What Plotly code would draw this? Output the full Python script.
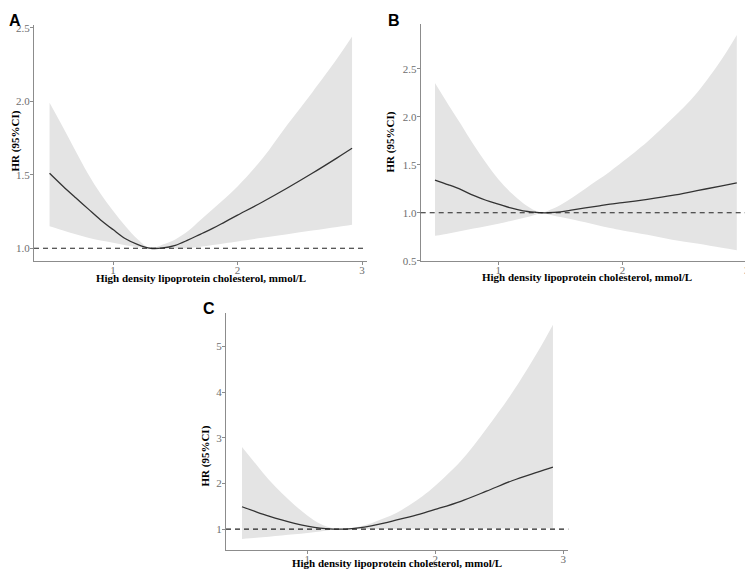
import plotly.graph_objects as go

# ---------------- data ----------------
a_x  = [0.49, 0.6, 0.7, 0.8, 0.9, 1.0, 1.1, 1.2, 1.3, 1.4, 1.5, 1.6, 1.7, 1.8, 1.9, 2.0, 2.2, 2.4, 2.6, 2.8, 2.92]
a_hr = [1.51, 1.42, 1.343, 1.268, 1.193, 1.127, 1.065, 1.025, 1.00, 1.002, 1.02, 1.055, 1.095, 1.135, 1.18, 1.225, 1.315, 1.41, 1.51, 1.615, 1.68]
a_hi = [1.99, 1.82, 1.66, 1.505, 1.37, 1.255, 1.15, 1.06, 1.00, 1.025, 1.06, 1.115, 1.19, 1.265, 1.34, 1.42, 1.61, 1.84, 2.06, 2.29, 2.44]
a_lo = [1.149, 1.12, 1.095, 1.072, 1.052, 1.038, 1.02, 1.007, 1.00, 0.999, 0.998, 1.00, 1.01, 1.022, 1.034, 1.046, 1.071, 1.096, 1.12, 1.145, 1.16]

b_x  = [0.49, 0.6, 0.7, 0.8, 0.9, 1.0, 1.1, 1.2, 1.3, 1.35, 1.4, 1.5, 1.6, 1.7, 1.8, 1.9, 2.0, 2.2, 2.4, 2.6, 2.8, 2.92]
b_hr = [1.34, 1.29, 1.24, 1.18, 1.13, 1.09, 1.05, 1.02, 1.005, 1.00, 1.00, 1.01, 1.03, 1.05, 1.07, 1.09, 1.105, 1.14, 1.18, 1.23, 1.28, 1.31]
b_hi = [2.35, 2.12, 1.92, 1.71, 1.52, 1.35, 1.21, 1.10, 1.02, 1.00, 1.02, 1.08, 1.16, 1.25, 1.34, 1.43, 1.53, 1.74, 1.98, 2.25, 2.60, 2.85]
b_lo = [0.76, 0.785, 0.81, 0.835, 0.86, 0.885, 0.915, 0.945, 0.98, 1.00, 0.985, 0.955, 0.93, 0.90, 0.87, 0.84, 0.815, 0.77, 0.72, 0.68, 0.635, 0.61]

c_x  = [0.49, 0.6, 0.7, 0.8, 0.9, 1.0, 1.1, 1.2, 1.25, 1.3, 1.4, 1.5, 1.6, 1.7, 1.8, 1.9, 2.0, 2.2, 2.4, 2.6, 2.8, 2.92]
c_hr = [1.49, 1.38, 1.285, 1.20, 1.125, 1.065, 1.02, 1.00, 0.998, 1.00, 1.025, 1.07, 1.13, 1.20, 1.27, 1.345, 1.43, 1.61, 1.83, 2.06, 2.25, 2.36]
c_hi = [2.80, 2.42, 2.08, 1.79, 1.53, 1.30, 1.12, 1.02, 1.00, 1.005, 1.05, 1.13, 1.24, 1.36, 1.53, 1.72, 1.95, 2.49, 3.20, 3.98, 4.88, 5.48]
c_lo = [0.784, 0.81, 0.835, 0.86, 0.885, 0.915, 0.95, 0.985, 0.995, 1.00, 1.00, 1.00, 1.00, 1.00, 1.005, 1.005, 1.01, 1.01, 1.015, 1.015, 1.02, 1.02]

x_ticks = [1, 2, 3]
a_yticks = [1.0, 1.5, 2.0, 2.5]
b_yticks = [0.5, 1.0, 1.5, 2.0, 2.5]
c_yticks = [1, 2, 3, 4, 5]
panel_labels = ["A", "B", "C"]
x_title = "High density lipoprotein cholesterol, mmol/L"
y_title = "HR (95%CI)"
ref_hr = 1.0

W, H = 753, 580
OFF = 8  # page body margin
def px(x): return (x - OFF) / W
def py(y): return 1 - (y - OFF) / H

panels = [
    dict(x=a_x, hr=a_hr, lo=a_lo, hi=a_hi, yt=a_yticks, fmt=".1f",
         xd=(34, 367), yd=(262, 22), xr=(0.365, 3.04), yr=(0.913, 2.52),
         lab=(8, 8), xt=(201, 279), ytp=(8, 140)),
    dict(x=b_x, hr=b_hr, lo=b_lo, hi=b_hi, yt=b_yticks, fmt=".1f",
         xd=(420.7, 751.7), yd=(261.7, 21.7), xr=(0.375, 3.04), yr=(0.5, 2.96),
         lab=(394, 8), xt=(587, 278.5), ytp=(390.5, 141)),
    dict(x=c_x, hr=c_hr, lo=c_lo, hi=c_hi, yt=c_yticks, fmt="d",
         xd=(226, 568.3), yd=(555, 315), xr=(0.365, 3.04), yr=(0.553, 5.73),
         lab=(209, 310), xt=(397, 568.5), ytp=(205.5, 460)),
]

fig = go.Figure()
serif = "Liberation Serif"
axis_col = "#8c8c8c"
tick_col = "#6e6e6e"
annotations = []
shapes = []
layout = {}
for i, p in enumerate(panels, start=1):
    xa = "x" if i == 1 else f"x{i}"
    ya = "y" if i == 1 else f"y{i}"
    fig.add_trace(go.Scatter(x=p["x"], y=p["lo"], mode="lines", line=dict(width=0, shape="spline"),
                             xaxis=xa, yaxis=ya, showlegend=False, hoverinfo="skip"))
    fig.add_trace(go.Scatter(x=p["x"], y=p["hi"], mode="lines", line=dict(width=0, shape="spline"),
                             fill="tonexty", fillcolor="#e4e4e4",
                             xaxis=xa, yaxis=ya, showlegend=False, hoverinfo="skip"))
    fig.add_trace(go.Scatter(x=p["x"], y=p["hr"], mode="lines",
                             line=dict(color="#333333", width=1.3, shape="spline"),
                             xaxis=xa, yaxis=ya, showlegend=False))
    common = dict(showgrid=False, zeroline=False, showline=True, linecolor=axis_col, linewidth=1,
                  ticks="outside", ticklen=3, tickcolor=axis_col, tickwidth=1,
                  tickfont=dict(family=serif, size=11, color=tick_col))
    layout["xaxis" if i == 1 else f"xaxis{i}"] = dict(
        common, domain=[px(p["xd"][0]), px(p["xd"][1])], range=list(p["xr"]),
        tickvals=x_ticks, anchor=ya, ticklabelstandoff=-4)
    layout["yaxis" if i == 1 else f"yaxis{i}"] = dict(
        common, domain=[py(p["yd"][0]), py(p["yd"][1])], range=list(p["yr"]),
        tickvals=p["yt"], tickformat=p["fmt"], anchor=xa, ticklabelstandoff=-2)
    shapes.append(dict(type="line", xref=f"{xa} domain", yref=ya, x0=0, x1=1, y0=ref_hr, y1=ref_hr,
                       line=dict(color="#222222", width=1.2, dash="5px,4px")))
    top_label = p["lab"][1] <= OFF
    annotations.append(dict(text=f"<b>{panel_labels[i-1]}</b>",
                            x=max(px(p["lab"][0]), 0), y=min(py(p["lab"][1]), 1),
                            xref="paper", yref="paper", showarrow=False, borderpad=0,
                            font=dict(family="Liberation Sans", size=16, color="black"),
                            xanchor="left" if i == 1 else "center",
                            yanchor="top" if top_label else "middle"))
    annotations.append(dict(text=f"<b>{x_title}</b>", x=px(p["xt"][0]), y=py(p["xt"][1]),
                            xref="paper", yref="paper", showarrow=False, borderpad=0,
                            font=dict(family=serif, size=11, color="black"),
                            xanchor="center", yanchor="middle"))
    annotations.append(dict(text=f"<b>{y_title}</b>", x=max(px(p["ytp"][0]), 0), y=py(p["ytp"][1]),
                            xref="paper", yref="paper", showarrow=False, textangle=-90, borderpad=0,
                            font=dict(family=serif, size=11, color="black"),
                            xanchor="left" if i == 1 else "center", yanchor="middle"))

fig.update_layout(width=W, height=H, margin=dict(l=0, r=0, t=0, b=0),
                  paper_bgcolor="white", plot_bgcolor="white",
                  annotations=annotations, shapes=shapes, **layout)
fig.write_html("out.html")
